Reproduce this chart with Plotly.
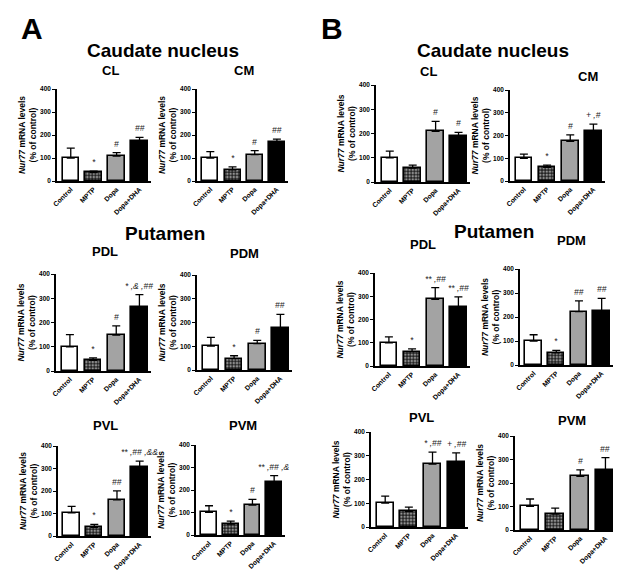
import plotly.graph_objects as go

W, H = 621, 570

groups = ["Control", "MPTP", "Dopa", "Dopa+DHA"]

# values (% of control) and upper error bars
a_cl_val = [100, 37, 108, 175]; a_cl_err = [43, 6, 15, 15]
a_cm_val = [100, 48, 115, 170]; a_cm_err = [28, 13, 17, 12]
b_cl_val = [100, 57, 209, 190]; b_cl_err = [27, 13, 41, 15]
b_cm_val = [100, 60, 174, 218]; b_cm_err = [18, 10, 29, 32]
a_pdl_val = [100, 44, 148, 262]; a_pdl_err = [50, 10, 38, 53]
a_pdm_val = [101, 48, 111, 177]; a_pdm_err = [36, 12, 14, 57]
b_pdl_val = [100, 62, 287, 255]; b_pdl_err = [25, 12, 50, 42]
b_pdm_val = [100, 51, 222, 225]; b_pdm_err = [26, 10, 45, 53]
a_pvl_val = [103, 39, 161, 307]; a_pvl_err = [29, 13, 40, 26]
a_pvm_val = [101, 48, 133, 236]; a_pvm_err = [29, 14, 25, 28]
b_pvl_val = [101, 66, 265, 272]; b_pvl_err = [29, 18, 50, 40]
b_pvm_val = [101, 68, 228, 257]; b_pvm_err = [31, 25, 28, 51]

# significance labels
a_cl_sig = ["", "*", "#", "##"]
a_cm_sig = ["", "*", "#", "##"]
b_cl_sig = ["", "", "#", "#"]
b_cm_sig = ["", "*", "#", "+ ,#"]
a_pdl_sig = ["", "*", "#", "* ,& ,##"]
a_pdm_sig = ["", "*", "#", "##"]
b_pdl_sig = ["", "*", "** ,##", "** ,##"]
b_pdm_sig = ["", "*", "##", "##"]
a_pvl_sig = ["", "*", "##", "** ,## ,&&"]
a_pvm_sig = ["", "*", "#", "** ,## ,&"]
b_pvl_sig = ["", "", "* ,##", "+ ,##"]
b_pvm_sig = ["", "", "#", "##"]

yticks = [0, 100, 200, 300, 400]

# panel layout: (title, values, errors, sig, x0px, x1px, ytop_px, ybot_px, title_x, title_y)
panels = [
    ("CL", a_cl_val, a_cl_err, a_cl_sig, 49, 143, 81, 173, 103, 62),
    ("CM", a_cm_val, a_cm_err, a_cm_sig, 189, 280, 81, 173, 236, 62),
    ("CL", b_cl_val, b_cl_err, b_cl_sig, 368, 462, 77, 174, 420, 63),
    ("CM", b_cm_val, b_cm_err, b_cm_sig, 502, 597, 82, 173, 580, 68),
    ("PDL", a_pdl_val, a_pdl_err, a_pdl_sig, 48, 143, 266, 363, 97, 243),
    ("PDM", a_pdm_val, a_pdm_err, a_pdm_sig, 189, 284, 267, 362, 237, 245),
    ("PDL", b_pdl_val, b_pdl_err, b_pdl_sig, 367, 462, 265, 358, 415, 237),
    ("PDM", b_pdm_val, b_pdm_err, b_pdm_sig, 512, 605, 261, 357, 563, 233),
    ("PVL", a_pvl_val, a_pvl_err, a_pvl_sig, 50, 143, 438, 528, 97, 417),
    ("PVM", a_pvm_val, a_pvm_err, a_pvm_sig, 188, 277, 437, 527, 235, 417),
    ("PVL", b_pvl_val, b_pvl_err, b_pvl_sig, 363, 460, 424, 519, 413, 409),
    ("PVM", b_pvm_val, b_pvm_err, b_pvm_sig, 507, 610, 428, 522, 564, 412),
]

FONT = "Liberation Sans, Arial, sans-serif"
fig = go.Figure()
annotations = []
layout = {}

for i, (ttl, vals, errs, sig, x0, x1, yt, yb, tx, ty) in enumerate(panels):
    n = i + 1
    xa = "x" if n == 1 else f"x{n}"
    ya = "y" if n == 1 else f"y{n}"
    xs = list(range(len(groups)))
    fig.add_trace(go.Bar(
        x=xs, y=vals, xaxis=xa, yaxis=ya, width=0.72,
        marker=dict(
            color=["white", "#222222", "#a3a3a3", "black"],
            line=dict(color="black", width=1.6),
            pattern=dict(shape=["", ".", "", ""], size=3.2, solidity=0.45,
                         fgcolor="white", bgcolor="#1a1a1a"),
        ),
        error_y=dict(type="data", symmetric=False, array=errs,
                     arrayminus=[0] * len(errs), color="black",
                     thickness=1.3, width=4),
        showlegend=False, hoverinfo="skip",
    ))
    xkey = "xaxis" if n == 1 else f"xaxis{n}"
    ykey = "yaxis" if n == 1 else f"yaxis{n}"
    layout[xkey] = dict(
        domain=[x0 / W, x1 / W], anchor=ya, range=[-0.6, 3.5],
        tickvals=xs, ticktext=groups, tickangle=-45,
        tickfont=dict(family=FONT, size=6.8, color="black", weight="bold"),
        showline=True, linecolor="black", linewidth=1.6,
        ticks="", showgrid=False, zeroline=False, automargin=False,
        fixedrange=True,
    )
    layout[ykey] = dict(
        domain=[1 - yb / H, 1 - yt / H], anchor=xa, range=[0, 400],
        tickvals=yticks, ticktext=[str(t) for t in yticks],
        tickfont=dict(family=FONT, size=6.5, color="black", weight="bold"),
        showline=True, linecolor="black", linewidth=1.6,
        ticks="outside", ticklen=3, tickwidth=1.2, tickcolor="black",
        showgrid=False, zeroline=False, automargin=False, fixedrange=True,
        title=dict(text="<i>Nur77</i> mRNA levels<br>(% of control)",
                   font=dict(family=FONT, size=8.5, color="black", weight="bold"),
                   standoff=2),
    )
    for j, s in enumerate(sig):
        if s:
            annotations.append(dict(
                x=j, y=vals[j] + errs[j], xref=xa, yref=ya, text=s,
                showarrow=False, yanchor="bottom", yshift=2,
                font=dict(family=FONT, size=8.5, color="#222222",
                          style="italic"),
            ))
    annotations.append(dict(
        x=tx / W, y=1 - ty / H, xref="paper", yref="paper", text=ttl,
        showarrow=False, xanchor="center", yanchor="middle",
        font=dict(family=FONT, size=13, color="black", weight="bold"),
    ))

# big titles
for txt, px, py, sz in [("A", 24, 20, 30), ("B", 324, 20, 30),
                        ("Caudate nucleus", 155, 42, 19),
                        ("Caudate nucleus", 485, 42, 19),
                        ("Putamen", 157, 225, 19),
                        ("Putamen", 486, 223, 19)]:
    annotations.append(dict(
        x=px / W, y=1 - py / H, xref="paper", yref="paper", text=txt,
        showarrow=False, xanchor="center", yanchor="middle",
        font=dict(family=FONT, size=sz, color="black", weight="bold"),
    ))

fig.update_layout(
    width=W, height=H, margin=dict(l=0, r=0, t=0, b=0),
    paper_bgcolor="white", plot_bgcolor="white",
    annotations=annotations, bargap=0, **layout,
)

fig.write_html("out.html")
